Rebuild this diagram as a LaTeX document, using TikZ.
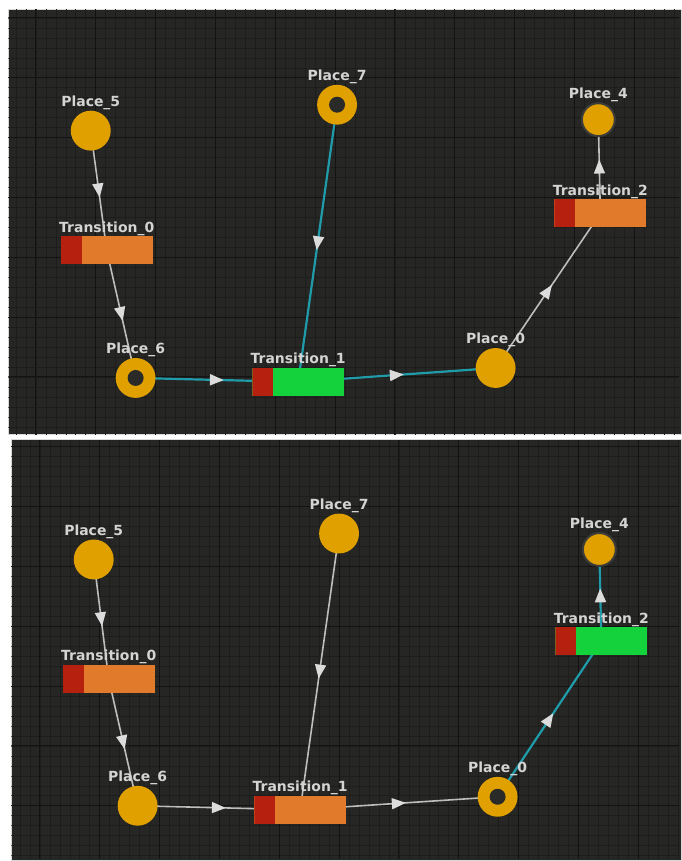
\documentclass[tikz,border=0pt]{standalone}
\usepackage{fontspec}
\setsansfont{DejaVu Sans}
\usepackage{tikz}
\usetikzlibrary{
  arrows.meta,
  backgrounds,
  decorations.markings,
}
\definecolor{canvasBg}{HTML}{262624}
\definecolor{gridMinor}{HTML}{1D1D1C}
\definecolor{gridMajor}{HTML}{131313}
\definecolor{placeGold}{HTML}{DFA000}
\definecolor{holeDark}{HTML}{2A2A28}
\definecolor{rimDark}{HTML}{3C3C3A}
\definecolor{transOrange}{HTML}{E27A2C}
\definecolor{transRed}{HTML}{B5200F}
\definecolor{transGreen}{HTML}{14D23C}
\definecolor{arcTeal}{HTML}{1F9BAA}
\definecolor{arcGray}{HTML}{BEBEBE}
\definecolor{tipWhite}{HTML}{DCDCDC}
\definecolor{labelGray}{HTML}{D4D4D4}
\tikzset{
  panel/.style={
    fill=canvasBg, draw=black!15, line width=0.8pt,
  },
  gridLo/.style={
    draw=gridMinor, line width=0.6pt,
  },
  gridHi/.style={
    draw=gridMajor, line width=1pt,
  },
  tag/.style={
    inner sep=0.5pt, text=labelGray,
    font=\sffamily\bfseries\fontsize{14}{16}\selectfont,
  },
  place/.style={
    circle, fill=placeGold, minimum size=40pt, inner sep=0pt,
    label distance=2pt, label={[tag]above:#1},
  },
  placeMarked/.style={
    place=#1,
    path picture={\fill[holeDark] (path picture bounding box.center) circle (8pt);},
  },
  placeSmall/.style={
    place=#1, minimum size=33pt, draw=rimDark, line width=2pt,
  },
  trans/.style={
    rectangle, fill=transOrange, minimum width=92pt, minimum height=28pt,
    inner sep=0pt, label distance=1pt, label={[tag]above:#1},
    path picture={\fill[transRed] (path picture bounding box.south west)
      rectangle ([xshift=21pt]path picture bounding box.north west);},
  },
  transOn/.style={
    trans=#1, fill=transGreen,
  },
  arc/.style={
    line width=1.6pt, draw=arcGray, postaction={decorate},
    decoration={markings, mark=at position 0.5 with
      {\arrow[xshift=7pt]{Triangle[length=14pt,width=11pt,color=tipWhite]}}},
  },
  arcHot/.style={
    arc, line width=2.2pt, draw=arcTeal,
  },
}
\begin{document}
\begin{tikzpicture}[x=1pt, y=-1pt]

\begin{scope}[on background layer]
  \fill[white] (0,0) rectangle (681,861);
  % first snapshot
  \draw[panel] (8,9) rectangle (683,436);
  \begin{scope}
    \clip (8.5,9.5) rectangle (681,435.5);
    \begin{scope}[shift={(36,18)}]
      \draw[gridLo, step=10pt] (-40,430) grid (660,-20);
      \draw[gridHi, step=60pt] (-40,430) grid (660,-20);
    \end{scope}
  \end{scope}
  % second snapshot
  \draw[panel] (11,441) rectangle (683,863);
  \begin{scope}
    \clip (11.5,441.5) rectangle (681,861);
    \begin{scope}[shift={(40,448)}]
      \draw[gridLo, step=10pt] (-40,420) grid (660,-20);
      \draw[gridHi, step=60pt] (-40,420) grid (660,-20);
    \end{scope}
  \end{scope}
\end{scope}

\node[place=Place\_5] (p5a) at (91,131) {};
\node[trans=Transition\_0] (t0a) at (107,251) {};
\node[placeMarked=Place\_6] (p6a) at (136,379) {};
\node[transOn=Transition\_1] (t1a) at (299,383) {};
\node[placeMarked=Place\_7] (p7a) at (338,105) {};
\node[place=Place\_0] (p0a) at (497,369) {};
\node[trans=Transition\_2] (t2a) at (602,214) {};
\node[placeSmall=Place\_4] (p4a) at (600,120) {};

\node[place=Place\_5] (p5b) at (94,561) {};
\node[trans=Transition\_0] (t0b) at (109,681) {};
\node[place=Place\_6] (p6b) at (138,808) {};
\node[trans=Transition\_1] (t1b) at (301,812) {};
\node[place=Place\_7] (p7b) at (340,535) {};
\node[placeMarked=Place\_0] (p0b) at (499,799) {};
\node[transOn=Transition\_2] (t2b) at (603,643) {};
\node[placeSmall=Place\_4] (p4b) at (601,551) {};

% arcs run centre to centre, under the nodes
\begin{scope}[on background layer]
  \draw[arc] (p5a.center) -- (t0a.center);
  \draw[arc] (t0a.center) -- (p6a.center);
  \draw[arcHot] (p6a.center) -- (t1a.center);
  \draw[arcHot] (p7a.center) -- (t1a.center);
  \draw[arcHot] (t1a.center) -- (p0a.center);
  \draw[arc] (p0a.center) -- (t2a.center);
  \draw[arc] (t2a.center) -- (p4a.center);

  \draw[arc] (p5b.center) -- (t0b.center);
  \draw[arc] (t0b.center) -- (p6b.center);
  \draw[arc] (p6b.center) -- (t1b.center);
  \draw[arc] (p7b.center) -- (t1b.center);
  \draw[arc] (t1b.center) -- (p0b.center);
  \draw[arcHot] (p0b.center) -- (t2b.center);
  \draw[arcHot] (t2b.center) -- (p4b.center);
\end{scope}

\end{tikzpicture}
\end{document}
